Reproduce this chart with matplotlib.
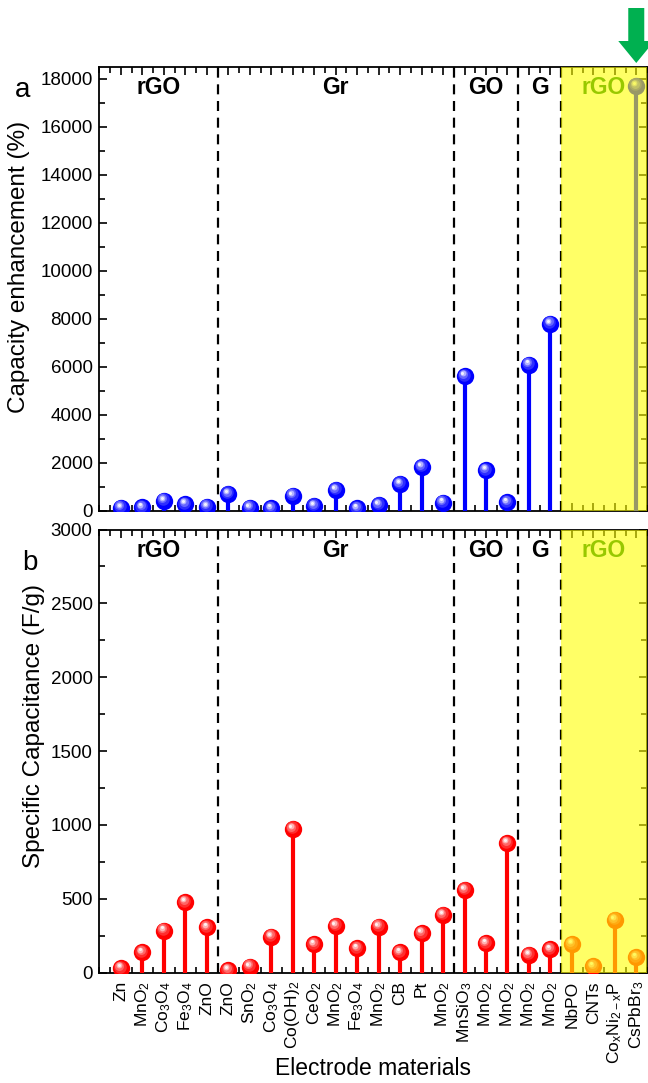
import numpy as np
import matplotlib
matplotlib.use("Agg")
import matplotlib.pyplot as plt
from matplotlib.transforms import offset_copy
from matplotlib.patches import Polygon
from matplotlib.ticker import MultipleLocator, FixedLocator

plt.rcParams['font.family'] = ['Liberation Sans', 'DejaVu Sans']
plt.rcParams['mathtext.fontset'] = 'custom'
plt.rcParams['mathtext.rm'] = 'Liberation Sans'
plt.rcParams['mathtext.it'] = 'Liberation Sans:italic'
plt.rcParams['mathtext.bf'] = 'Liberation Sans:bold'

# ---------------- data ----------------
materials = ['Zn', 'MnO$_2$', 'Co$_3$O$_4$', 'Fe$_3$O$_4$', 'ZnO',
             'ZnO', 'SnO$_2$', 'Co$_3$O$_4$', 'Co(OH)$_2$', 'CeO$_2$', 'MnO$_2$',
             'Fe$_3$O$_4$', 'MnO$_2$', 'CB', 'Pt', 'MnO$_2$',
             'MnSiO$_3$', 'MnO$_2$', 'MnO$_2$',
             'MnO$_2$', 'MnO$_2$',
             'NbPO', 'CNTs', r'Co$_\mathregular{x}$Ni$_\mathregular{2-x}$P', 'CsPbBr$_3$']
capacity_enhancement = [140, 150, 430, 280, 180,
                        710, 140, 110, 640, 210, 875, 110, 260, 1130, 1840, 350,
                        5610, 1705, 360,
                        6100, 7800,
                        np.nan, np.nan, np.nan, 17700]
specific_capacitance = [30, 138, 285, 477, 307,
                        18, 41, 244, 974, 192, 318, 165, 312, 138, 267, 391,
                        560, 199, 877,
                        120, 158,
                        194, 42, 357, 104]
group_names = ['rGO', 'Gr', 'GO', 'G', 'rGO']
group_sizes = [5, 11, 3, 2, 4]

x = np.arange(1, len(materials) + 1)
bounds = np.cumsum(group_sizes)[:-1] + 0.5
XMIN, XMAX = 0, 25.5
edges = [XMIN] + list(bounds) + [XMAX]
centers = [(edges[i] + edges[i + 1]) / 2 for i in range(len(group_names))]
hl_start = bounds[-1]

W, H = 648, 1083
fig = plt.figure(figsize=(W / 100, H / 100), dpi=100)
ax1 = fig.add_axes([99.5 / W, 1 - 511 / H, (647 - 99.5) / W, (511 - 66.7) / H])
ax2 = fig.add_axes([99.5 / W, 1 - 972.7 / H, (647 - 99.5) / W, (972.7 - 529.5) / H])


def mix(c, f):
    c = np.array(matplotlib.colors.to_rgb(c))
    return tuple(c + (1 - c) * f)


def lollipop(ax, xs, ys, color):
    xs = np.asarray(xs, float)
    ys = np.asarray(ys, float)
    m = ~np.isnan(ys)
    xs, ys = xs[m], ys[m]
    ax.vlines(xs, 0, ys, color=color, lw=3.0, zorder=3)
    ax.plot(xs, ys, 'o', ms=12.5, color=color, mec=color, mew=0, zorder=4)
    layers = [(9.0, 0.18, -1.0, 1.5), (6.5, 0.4, -1.6, 2.2),
              (4.2, 0.7, -2.0, 2.8), (2.2, 0.95, -2.3, 3.1)]
    for ms, f, dx, dy in layers:
        tr = offset_copy(ax.transData, fig=fig, x=dx, y=dy, units='dots')
        ax.plot(xs, ys, 'o', ms=ms, color=mix(color, f), mew=0, zorder=5,
                transform=tr)


lollipop(ax1, x, capacity_enhancement, 'blue')
lollipop(ax2, x, specific_capacitance, 'red')

for ax, ymax, major, minor in [(ax1, 18500, 2000, 1000), (ax2, 3000, 500, 250)]:
    ax.set_xlim(XMIN, XMAX)
    ax.set_ylim(0, ymax)
    ax.yaxis.set_major_locator(MultipleLocator(major))
    ax.yaxis.set_minor_locator(MultipleLocator(minor))
    ax.xaxis.set_major_locator(FixedLocator(x))
    ax.xaxis.set_minor_locator(MultipleLocator(0.5))
    ax.tick_params(which='both', direction='in', top=True, right=True,
                   width=1.2, labelsize=13.5)
    ax.tick_params(axis='y', pad=5)
    ax.tick_params(which='major', length=6)
    ax.tick_params(which='minor', length=4)
    for s in ax.spines.values():
        s.set_linewidth(1.3)
    for b in bounds:
        ax.axvline(b, color='black', lw=1.6, ls=(0, (4.5, 3)), zorder=2)
    for i, (name, cx) in enumerate(zip(group_names, centers)):
        col = 'black' if i < len(group_names) - 1 else (0.0, 0.47, 0.0)
        ax.text(cx, 0.978, name, transform=ax.get_xaxis_transform(),
                ha='center', va='top', fontsize=16.5, fontweight='bold',
                color=col, zorder=6)
    ax.axvspan(hl_start, XMAX, color=(1, 1, 0), alpha=0.6, lw=0, zorder=10)

ax1.tick_params(axis='x', labelbottom=False)
ax2.set_xticks(x)
ax2.set_xticklabels(materials, rotation=90, fontsize=12.5)
ax2.tick_params(axis='x', pad=6)

ax1.set_ylabel('Capacity enhancement (%)', fontsize=17.5)
ax2.set_ylabel('Specific Capacitance (F/g)', fontsize=17.5)
ax1.yaxis.set_label_coords(-0.127, 0.55)
ax2.yaxis.set_label_coords(-0.1, 0.557)
ax2.set_xlabel('Electrode materials', fontsize=16.5)
ax2.xaxis.set_label_coords(0.5, -0.19)

fig.text(23 / W, 1 - 90 / H, 'a', fontsize=20, ha='center', va='center')
fig.text(30 / W, 1 - 563 / H, 'b', fontsize=20, ha='center', va='center')

# green arrow pointing to the highlighted point
ax_px = 99.5 + 25 * (647 - 99.5) / 25.5
pts = [(ax_px - 8, 8), (ax_px + 8, 8), (ax_px + 8, 41), (ax_px + 18, 41),
       (ax_px, 63), (ax_px - 18, 41), (ax_px - 8, 41)]
fig.patches.append(Polygon([(px / W, 1 - py / H) for px, py in pts],
                           closed=True, transform=fig.transFigure,
                           facecolor='#00b050', edgecolor='none', zorder=20))

fig.savefig('out.png', dpi=100)
